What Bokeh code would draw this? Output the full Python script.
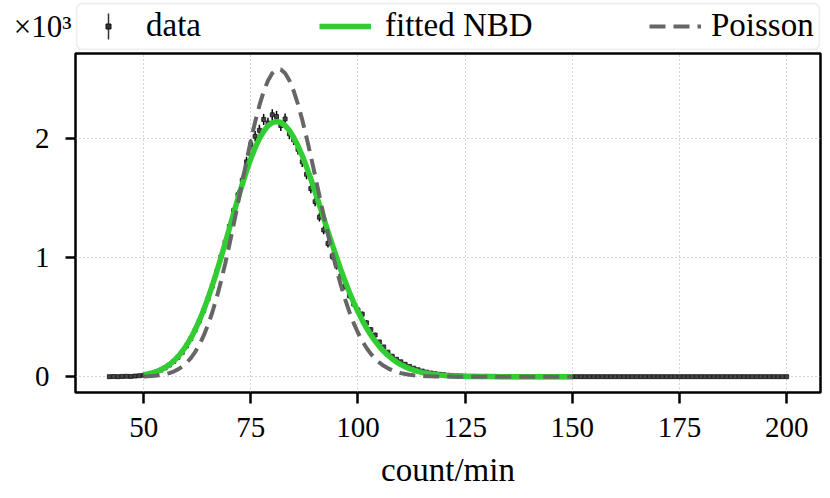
import numpy as np
from bokeh.plotting import figure
from bokeh.layouts import column
from bokeh.models import (Range1d, FixedTicker, Legend, LegendItem, ColumnDataSource,
                          BoxAnnotation)
from bokeh.embed import file_html
from bokeh.resources import INLINE

# ---------------- data ----------------
count_x = list(range(42, 201))
count_y = [0, 1, 0, 2, 3, 2, 5, 8,
           12, 19, 27, 40, 55, 74, 98, 128, 162, 205,
           258, 318, 390, 468, 555, 652, 760, 880, 1005, 1130,
           1262, 1395, 1528, 1650, 1805, 1950, 2020, 2070, 2160, 2130,
           2200, 2185, 2110, 2165, 2040, 1990, 1910, 1805, 1700, 1580,
           1470, 1340, 1232, 1118, 1010, 930, 845, 760, 680, 610,
           560, 525, 452, 395, 350, 292, 250, 206, 172, 146,
           125, 104, 86, 71, 58, 47, 38, 31, 25, 20,
           16, 12, 10, 7, 6, 4, 3, 3, 2, 1,
           2, 1, 0, 1, 0, 1] + [0] * 65

nbd_x = list(range(50, 151))
nbd_y = [16.1, 22.7, 31.5, 43.1, 58.1, 77.2, 101.2, 131.0, 167.3, 211.0,
         262.8, 323.3, 392.9, 471.9, 560.3, 657.7, 763.5, 876.7, 996.0, 1119.6,
         1245.7, 1372.0, 1496.2, 1615.8, 1728.2, 1831.1, 1922.2, 1999.6, 2061.6, 2106.8,
         2134.4, 2144.0, 2135.7, 2109.9, 2067.6, 2010.0, 1938.7, 1855.5, 1762.4, 1661.4,
         1554.6, 1444.1, 1331.9, 1219.7, 1109.2, 1001.8, 898.6, 800.7, 708.8, 623.3,
         544.7, 473.0, 408.1, 350.0, 298.3, 252.8, 212.9, 178.3, 148.4, 122.9,
         101.1, 82.8, 67.4, 54.6, 43.9, 35.2, 28.1, 22.3, 17.6, 13.8,
         10.8, 8.4, 6.5, 5.0, 3.8, 2.9, 2.2, 1.7, 1.3, 1.0,
         0.7, 0.5, 0.4, 0.3, 0.2, 0.2, 0.1, 0.1, 0.1, 0.1,
         0.1, 0.0, 0.0, 0.0, 0.0, 0.0, 0.0, 0.0, 0.0, 0.0, 0.0]

pois_x = list(range(50, 151))
pois_y = [2.3, 3.7, 5.9, 9.1, 13.8, 20.5, 30.0, 43.2, 61.1, 84.9,
          116.0, 156.0, 206.3, 268.5, 344.0, 434.0, 539.2, 659.9, 795.8, 945.7,
          1107.8, 1279.4, 1457.1, 1636.8, 1813.7, 1983.0, 2139.6, 2278.5, 2395.4, 2486.4,
          2548.5, 2580.0, 2580.0, 2548.9, 2488.2, 2400.4, 2288.7, 2157.2, 2010.1, 1852.0,
          1687.4, 1520.5, 1355.2, 1194.9, 1042.4, 899.8, 768.6, 649.7, 543.6, 450.3,
          369.2, 299.8, 241.0, 191.9, 151.3, 118.2, 91.4, 70.1, 53.2, 40.0,
          29.8, 22.0, 16.1, 11.7, 8.4, 6.0, 4.2, 2.9, 2.0, 1.4,
          0.9, 0.6, 0.4, 0.3, 0.2, 0.1] + [0.0] * 25

x_ticks = [50, 75, 100, 125, 150, 175, 200]
y_ticks = [0, 1000, 2000]
y_tick_labels = ["0", "1", "2"]
legend_labels = ["data", "fitted NBD", "Poisson"]
multiplier = "×10³"

FONT = "Liberation Serif"
GREEN = "#32CD32"
GREY = "#666666"

W = 822
TOP_H = 51
H = 439
BL, BR, BT, BB = 75, 2, 2, 94
X0, X1 = 34.1, 207.9
Y0, Y1 = -133, 2715

err = np.sqrt(np.array(count_y, dtype=float))
src = ColumnDataSource(dict(x=count_x, y=count_y,
                            lo=np.array(count_y) - err, hi=np.array(count_y) + err))

# ---------------- main figure ----------------
p = figure(width=W, height=H, output_backend="svg", toolbar_location=None,
           x_range=Range1d(X0, X1), y_range=Range1d(Y0, Y1),
           min_border_left=BL, min_border_right=BR, min_border_top=BT, min_border_bottom=BB)
p.background_fill_color = "white"
p.border_fill_color = "white"
p.outline_line_color = "black"
p.outline_line_width = 2.5

p.segment(x0="x", y0="lo", x1="x", y1="hi", source=src, line_color="black", line_width=1.5)
p.scatter(x="x", y="y", source=src, marker="square", size=4,
          fill_color="#444444", line_color="#111111", line_width=0.8)
p.line(nbd_x, nbd_y, line_color=GREEN, line_width=5.5)
p.line(pois_x, pois_y, line_color=GREY, line_width=4, line_dash="16 8")

for ax in (p.xaxis[0], p.yaxis[0]):
    ax.axis_line_color = None
    ax.major_tick_line_color = "black"
    ax.major_tick_line_width = 2.5
    ax.major_tick_in = 0
    ax.minor_tick_line_color = None
    ax.major_label_text_font = FONT
    ax.major_label_text_font_size = "29px"
    ax.major_label_text_color = "black"

p.xaxis.major_tick_out = 11
p.yaxis.major_tick_out = 10
p.xaxis.ticker = FixedTicker(ticks=x_ticks)
p.yaxis.ticker = FixedTicker(ticks=y_ticks)
p.yaxis.major_label_overrides = {t: l for t, l in zip(y_ticks, y_tick_labels)}
p.xaxis.major_label_standoff = 14
p.yaxis.major_label_standoff = 16
p.xaxis.axis_label = "count/min"
p.xaxis.axis_label_text_font = FONT
p.xaxis.axis_label_text_font_size = "33px"
p.xaxis.axis_label_text_font_style = "normal"
p.xaxis.axis_label_text_color = "black"
p.xaxis.axis_label_standoff = 12

p.grid.grid_line_color = "#a8a8a8"
p.grid.grid_line_width = 1
p.grid.grid_line_dash = "1 3"

# ---------------- top strip: legend + multiplier ----------------
# its frame is aligned with the main frame (page x 75..820); y range lies far from the data
TY = 10000
top = figure(width=W, height=TOP_H, output_backend="svg", toolbar_location=None,
             x_range=Range1d(75, 820), y_range=Range1d(TY, TY + TOP_H),
             x_axis_location=None,
             min_border_left=BL, min_border_right=BR, min_border_top=0, min_border_bottom=0)
top.outline_line_color = None
top.grid.visible = False
top.background_fill_color = "white"
top.border_fill_color = "white"
ya = top.yaxis[0]
ya.axis_line_color = None
ya.major_tick_line_color = None
ya.minor_tick_line_color = None
ya.major_label_text_font_size = "0px"
ya.major_label_standoff = 0
ya.major_tick_out = 0
ya.ticker = FixedTicker(ticks=[])
ya.axis_label = multiplier
ya.axis_label_orientation = "horizontal"
ya.axis_label_text_font = FONT
ya.axis_label_text_font_size = "31px"
ya.axis_label_text_font_style = "normal"
ya.axis_label_text_color = "black"
ya.axis_label_standoff = 4

# legend frame box (rounded)
top.add_layout(BoxAnnotation(left=1, right=744, bottom=2, top=48,
                             left_units="screen", right_units="screen",
                             bottom_units="screen", top_units="screen",
                             fill_color="white", fill_alpha=1,
                             line_color="#cccccc", line_width=2, border_radius=6))

# legend key for the data series: a vertical error bar with a small square marker
KEY_X, KEY_Y, KEY_HALF = 108, TY + 25, 13
top.segment(x0=[KEY_X], y0=[KEY_Y - KEY_HALF], x1=[KEY_X], y1=[KEY_Y + KEY_HALF],
            line_color="#333333", line_width=1.5, level="overlay")
top.scatter(x=[KEY_X], y=[KEY_Y], marker="square", size=5, fill_color="#333333",
            line_color="#111111", level="overlay")

# legend glyph renderers for the curves (data lies outside this strip's y-range)
l_nbd = top.line(nbd_x, nbd_y, line_color=GREEN, line_width=5.5)
l_pois = top.line(pois_x, pois_y, line_color=GREY, line_width=4, line_dash="16 8")


def one_legend(label, rends, loc, gw, gh, standoff):
    return Legend(items=[LegendItem(label=label, renderers=rends)],
                  orientation="horizontal", location=loc,
                  glyph_width=gw, glyph_height=gh, label_standoff=standoff,
                  padding=0, margin=0, label_height=gh,
                  label_text_font=FONT, label_text_font_size="33px",
                  label_text_color="black",
                  border_line_color=None, background_fill_alpha=0)


# "data" entry: text only (its key is drawn above); zero-size glyph slot
top.add_layout(Legend(items=[LegendItem(label=legend_labels[0], renderers=[l_nbd])],
                      orientation="horizontal", location=(71, 25 - 18),
                      glyph_width=0, glyph_height=36, label_standoff=0,
                      padding=0, margin=0, label_height=36,
                      label_text_font=FONT, label_text_font_size="33px",
                      label_text_color="black",
                      border_line_color=None, background_fill_alpha=0))
top.add_layout(one_legend(legend_labels[1], [l_nbd], (244, 25 - 18), 52, 36, 14))
top.add_layout(one_legend(legend_labels[2], [l_pois], (574, 25 - 18), 52, 36, 10))

layout = column(top, p, spacing=0)
open("out.html", "w").write(file_html(layout, INLINE))
